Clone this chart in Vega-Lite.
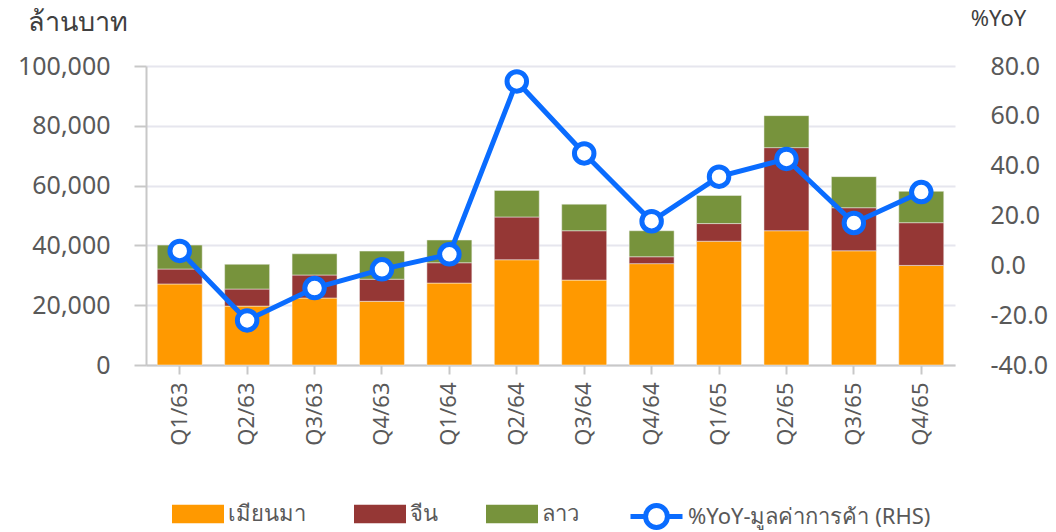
{
  "$schema": "https://vega.github.io/schema/vega-lite/v6.json",
  "width": 809,
  "height": 299,
  "autosize": {"type": "none"},
  "padding": {"left": 146, "top": 66, "right": 101, "bottom": 167},
  "background": "white",
  "config": {
    "font": "Noto Sans",
    "view": {"stroke": null},
    "axis": {"labelColor": "#595959", "titleColor": "#404040", "titleFontWeight": "normal", "labelFont": "Noto Sans", "titleFont": "Noto Sans"},
    "legend": {"labelFont": "Noto Sans", "labelColor": "#595959", "labelLimit": 500}
  },
  "data": {
    "values": [
      {"q": "Q1/63", "เมียนมา": 27100, "จีน": 5000, "ลาว": 8000, "yoy": 5.8},
      {"q": "Q2/63", "เมียนมา": 19700, "จีน": 5700, "ลาว": 8300, "yoy": -22.1},
      {"q": "Q3/63", "เมียนมา": 22400, "จีน": 7700, "ลาว": 7100, "yoy": -9.1},
      {"q": "Q4/63", "เมียนมา": 21300, "จีน": 7400, "ลาว": 9400, "yoy": -1.6},
      {"q": "Q1/64", "เมียนมา": 27400, "จีน": 6800, "ลาว": 7600, "yoy": 4.4},
      {"q": "Q2/64", "เมียนมา": 35200, "จีน": 14300, "ลาว": 8900, "yoy": 73.8},
      {"q": "Q3/64", "เมียนมา": 28400, "จีน": 16500, "ลาว": 8900, "yoy": 44.9},
      {"q": "Q4/64", "เมียนมา": 33900, "จีน": 2300, "ลาว": 8700, "yoy": 17.7},
      {"q": "Q1/65", "เมียนมา": 41400, "จีน": 5900, "ลาว": 9400, "yoy": 35.6},
      {"q": "Q2/65", "เมียนมา": 44900, "จีน": 27800, "ลาว": 10700, "yoy": 42.7},
      {"q": "Q3/65", "เมียนมา": 38200, "จีน": 14400, "ลาว": 10400, "yoy": 17.0},
      {"q": "Q4/65", "เมียนมา": 33300, "จีน": 14300, "ลาว": 10500, "yoy": 29.4}
    ]
  },
  "encoding": {
    "x": {
      "field": "q",
      "type": "nominal",
      "sort": null,
      "scale": {"paddingInner": 0.333, "paddingOuter": 0.1667},
      "axis": {
        "title": null,
        "labelAngle": -90,
        "labelFontSize": 22,
        "labelPadding": 8,
        "tickSize": 9,
        "tickWidth": 2,
        "tickColor": "#c8c8c8",
        "domainColor": "#c8c8c8",
        "domainWidth": 2
      }
    }
  },
  "layer": [
    {
      "transform": [
        {"fold": ["เมียนมา", "จีน", "ลาว"], "as": ["country", "value"]},
        {"calculate": "indexof(['เมียนมา','จีน','ลาว'], datum.country)", "as": "rank"}
      ],
      "mark": {"type": "bar", "stroke": "#f2f2f2", "strokeWidth": 0.5},
      "encoding": {
        "y": {
          "field": "value",
          "type": "quantitative",
          "stack": "zero",
          "scale": {"domain": [0, 100000], "nice": false},
          "axis": {
            "orient": "left",
            "values": [0, 20000, 40000, 60000, 80000, 100000],
            "format": ",.0f",
            "labelFontSize": 25,
            "labelPadding": 24,
            "tickSize": 12,
            "tickWidth": 2,
            "tickColor": "#c8c8c8",
            "domainColor": "#c8c8c8",
            "domainWidth": 2,
            "grid": true,
            "gridColor": "#e6e6ee",
            "gridWidth": 2,
            "title": "ล้านบาท",
            "titleFontSize": 27,
            "titleAngle": 0,
            "titleAlign": "center",
            "titleBaseline": "middle",
            "titleX": -69,
            "titleY": -44
          }
        },
        "fill": {
          "field": "country",
          "type": "nominal",
          "scale": {"domain": ["เมียนมา", "จีน", "ลาว"], "range": ["#FF9900", "#953735", "#77933C"]},
          "legend": {
            "title": null,
            "orient": "none",
            "legendX": 26,
            "legendY": 422,
            "direction": "horizontal",
            "padding": 0,
            "columnPadding": 48,
            "labelFontSize": 22,
            "labelOffset": 4,
            "symbolType": "M-1,-0.36H1V0.36H-1Z",
            "symbolSize": 2704,
            "symbolStrokeWidth": 0
          }
        },
        "order": {"field": "rank", "type": "quantitative", "sort": "ascending"}
      }
    },
    {
      "mark": {
        "type": "line",
        "strokeWidth": 5,
        "point": {"filled": true, "fill": "white", "size": 380, "strokeWidth": 5, "stroke": "#0a6cff"}
      },
      "encoding": {
        "y": {
          "field": "yoy",
          "type": "quantitative",
          "scale": {"domain": [-40, 80], "nice": false},
          "axis": {
            "orient": "right",
            "values": [-40, -20, 0, 20, 40, 60, 80],
            "format": ".1f",
            "labelExpr": "replace(datum.label, '−', '-')",
            "labelFontSize": 25,
            "labelPadding": 35,
            "ticks": false,
            "domain": false,
            "grid": false,
            "title": "%YoY",
            "titleFontSize": 22,
            "titleAngle": 0,
            "titleAlign": "center",
            "titleBaseline": "middle",
            "titleX": 43,
            "titleY": -48
          }
        },
        "stroke": {
          "datum": "%YoY-มูลค่าการค้า (RHS)",
          "type": "nominal",
          "scale": {"range": ["#0a6cff"]},
          "legend": {
            "title": null,
            "orient": "none",
            "legendX": 482,
            "legendY": 422,
            "padding": 0,
            "labelFontSize": 22,
            "labelOffset": 3,
            "labelLimit": 500,
            "symbolType": "M-1,0H-0.42M0.42,0H1M-0.42,0A0.42,0.42,0,1,0,0.42,0A0.42,0.42,0,1,0,-0.42,0",
            "symbolSize": 2704,
            "symbolStrokeWidth": 5,
            "symbolFillColor": "white",
            "encode": {"symbols": {"update": {"fill": {"value": "white"}}}}
          }
        }
      }
    }
  ],
  "resolve": {"scale": {"y": "independent", "fill": "independent", "stroke": "independent"}}
}
